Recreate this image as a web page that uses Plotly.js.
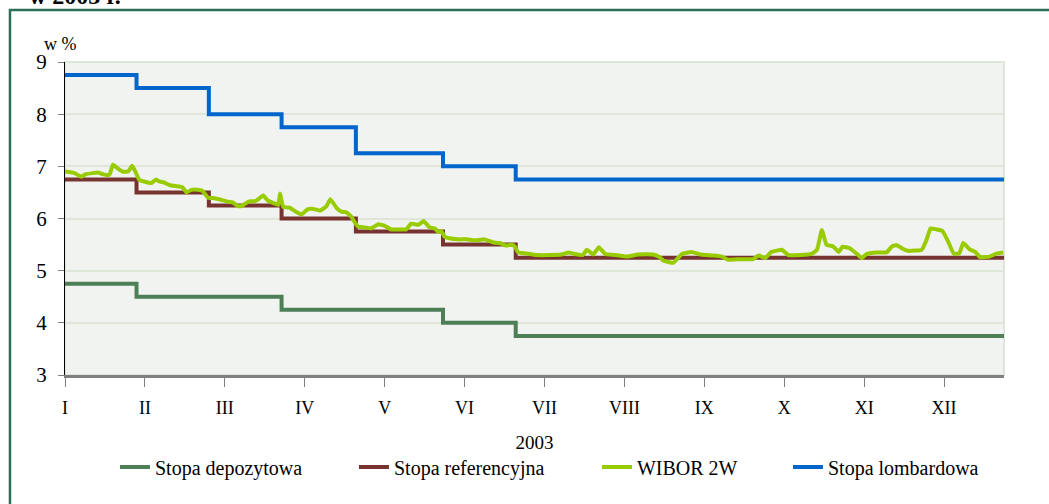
<!DOCTYPE html>
<html>
<head>
<meta charset="utf-8">
<script src="https://cdn.plot.ly/plotly-3.0.1.min.js"></script>
<style>
  html, body { margin: 0; padding: 0; background: #ffffff; }
  #chart { width: 1049px; height: 504px; }
</style>
</head>
<body>
<div id="chart"></div>
<script>
// month labels (x = months since 1 Jan 2003)
const monthTicks = [0, 1, 2, 3, 4, 5, 6, 7, 8, 9, 10, 11];
const monthLabels = ['I', 'II', 'III', 'IV', 'V', 'VI', 'VII', 'VIII', 'IX', 'X', 'XI', 'XII'];

// NBP rate changes (start of each level)
const rateDates = [0, 0.895, 1.80, 2.71, 3.64, 4.73, 5.64, 11.75];
const stopaDepozytowa = [4.75, 4.5, 4.5, 4.25, 4.25, 4.0, 3.75, 3.75];
const stopaReferencyjna = [6.75, 6.5, 6.25, 6.0, 5.75, 5.5, 5.25, 5.25];
const stopaLombardowa = [8.75, 8.5, 8.0, 7.75, 7.25, 7.0, 6.75, 6.75];

// WIBOR 2W
const wiborX = [0, 0.12, 0.20, 0.26, 0.35, 0.41, 0.47, 0.53, 0.56, 0.60, 0.66, 0.72, 0.79, 0.84, 0.88,
  0.93, 0.99, 1.08, 1.14, 1.18, 1.24, 1.31, 1.39, 1.47, 1.52, 1.58, 1.66, 1.72, 1.79, 1.87, 1.95,
  2.04, 2.10, 2.16, 2.21, 2.29, 2.39, 2.48, 2.54, 2.62, 2.67, 2.69, 2.73, 2.81, 2.89, 2.96, 3.04,
  3.12, 3.19, 3.27, 3.32, 3.40, 3.46, 3.52, 3.58, 3.62, 3.67, 3.75, 3.83, 3.92, 4.00, 4.08, 4.19,
  4.27, 4.33, 4.42, 4.49, 4.56, 4.63, 4.67, 4.71, 4.75, 4.81, 4.92, 5.02, 5.13, 5.25, 5.36, 5.44,
  5.52, 5.59, 5.63, 5.67, 5.77, 5.90, 6.07, 6.21, 6.30, 6.38, 6.48, 6.53, 6.61, 6.68, 6.76, 6.88,
  7.03, 7.17, 7.36, 7.44, 7.49, 7.61, 7.72, 7.84, 7.95, 8.11, 8.22, 8.30, 8.45, 8.61, 8.68, 8.76,
  8.84, 8.97, 9.05, 9.20, 9.34, 9.41, 9.47, 9.53, 9.61, 9.68, 9.73, 9.82, 9.91, 9.97, 10.03, 10.16,
  10.28, 10.35, 10.41, 10.47, 10.55, 10.72, 10.78, 10.83, 10.91, 10.98, 11.05, 11.12, 11.19, 11.24,
  11.32, 11.39, 11.45, 11.57, 11.66, 11.74];
const wiborY = [6.90, 6.87, 6.80, 6.85, 6.87, 6.88, 6.85, 6.83, 6.85, 7.03, 6.96, 6.90, 6.90, 7.01, 6.90,
  6.74, 6.71, 6.68, 6.75, 6.71, 6.69, 6.64, 6.62, 6.60, 6.50, 6.55, 6.55, 6.53, 6.40, 6.39, 6.36,
  6.32, 6.31, 6.24, 6.24, 6.32, 6.34, 6.44, 6.34, 6.29, 6.26, 6.48, 6.22, 6.21, 6.13, 6.08, 6.18,
  6.18, 6.15, 6.23, 6.37, 6.20, 6.13, 6.12, 6.04, 5.94, 5.84, 5.83, 5.81, 5.89, 5.86, 5.79, 5.79,
  5.79, 5.90, 5.88, 5.95, 5.83, 5.81, 5.74, 5.76, 5.65, 5.62, 5.60, 5.60, 5.58, 5.60, 5.54, 5.53,
  5.48, 5.50, 5.46, 5.35, 5.33, 5.30, 5.30, 5.31, 5.35, 5.32, 5.30, 5.40, 5.31, 5.45, 5.32, 5.30,
  5.27, 5.31, 5.31, 5.26, 5.19, 5.15, 5.32, 5.36, 5.31, 5.29, 5.27, 5.21, 5.22, 5.22, 5.29, 5.24,
  5.36, 5.40, 5.30, 5.30, 5.32, 5.40, 5.78, 5.49, 5.47, 5.36, 5.46, 5.43, 5.32, 5.24, 5.32, 5.35,
  5.35, 5.47, 5.49, 5.43, 5.38, 5.40, 5.59, 5.81, 5.79, 5.76, 5.56, 5.33, 5.33, 5.53,
  5.41, 5.36, 5.26, 5.27, 5.33, 5.35];

const serif = 'Times New Roman, Liberation Serif, DejaVu Serif, serif';
const fontOf = (size) => ({ family: serif, size: size, color: '#000000' });

function stepTrace(name, y, color, legendWidth) {
  return {
    x: rateDates, y: y, name: name, type: 'scatter', mode: 'lines',
    line: { color: color, width: 4, shape: 'hv' },
    legendwidth: legendWidth
  };
}

const traces = [
  stepTrace('Stopa depozytowa', stopaDepozytowa, '#4C7F56', 194),
  stepTrace('Stopa referencyjna', stopaReferencyjna, '#77332F', 198),
  {
    x: wiborX, y: wiborY, name: 'WIBOR 2W', type: 'scatter', mode: 'lines',
    line: { color: '#99CC00', width: 4, shape: 'spline', smoothing: 0.3 },
    legendwidth: 146
  },
  stepTrace('Stopa lombardowa', stopaLombardowa, '#0066CC', 155)
];

const layout = {
  width: 1049, height: 504,
  margin: { l: 65, r: 45, t: 62, b: 129 },
  paper_bgcolor: '#ffffff',
  plot_bgcolor: '#F1F3F0',
  font: fontOf(18),
  showlegend: true,
  legend: {
    orientation: 'h', x: 0.0532, xanchor: 'left', y: -0.294, yanchor: 'middle',
    font: fontOf(20),
    bgcolor: 'rgba(0,0,0,0)'
  },
  xaxis: {
    range: [0, 11.75],
    tickvals: monthTicks, ticktext: monthLabels,
    showgrid: false, zeroline: false,
    showline: true, linecolor: '#808080', linewidth: 3,
    ticks: 'outside', ticklen: 9, tickcolor: '#808080', tickwidth: 1,
    ticklabelstandoff: 5,
    tickfont: fontOf(18),
    title: { text: '2003', font: fontOf(19), standoff: 20 }
  },
  yaxis: {
    range: [3, 9], dtick: 1,
    showgrid: true, gridcolor: '#DEE6DA', gridwidth: 2,
    zeroline: false,
    showline: true, linecolor: '#000000', linewidth: 1,
    ticks: 'outside', ticklen: 6, tickcolor: '#808080', tickwidth: 1,
    ticklabelstandoff: 7,
    tickfont: fontOf(21)
  },
  shapes: [
    // plot area border (top / right)
    { type: 'rect', xref: 'paper', yref: 'paper', x0: 0, x1: 1, y0: 0, y1: 1,
      line: { color: '#DEE6DA', width: 2 }, layer: 'below' },
    // outer frame
    { type: 'rect', xref: 'paper', yref: 'paper', x0: -0.0586, x1: 1.2, y0: -0.6, y1: 1.166,
      line: { color: '#2E6E58', width: 2.5 }, layer: 'below' }
  ],
  annotations: [
    { text: '<b>w 2003 r.</b>', xref: 'paper', yref: 'paper', x: -0.0405, y: 1.162,
      xanchor: 'left', yanchor: 'bottom', showarrow: false, font: fontOf(24) },
    { text: 'w %', xref: 'paper', yref: 'paper', x: -0.0245, y: 1.058,
      xanchor: 'left', yanchor: 'middle', showarrow: false, font: fontOf(18) }
  ]
};

Plotly.newPlot('chart', traces, layout, { displayModeBar: false, staticPlot: true });
</script>
</body>
</html>
